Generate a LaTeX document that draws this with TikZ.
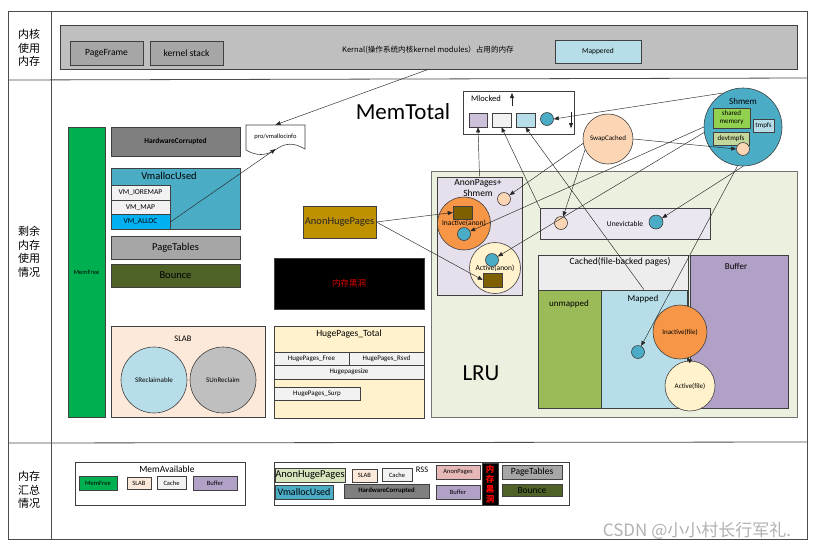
\documentclass[tikz,border=0pt]{standalone}
\usepackage{fontspec}
\setmainfont{Carlito}
\newfontfamily\cjk{Noto Sans CJK SC}
\usetikzlibrary{arrows.meta}
\definecolor{cGrayL}{HTML}{BFBFBF}
\definecolor{cGrayM}{HTML}{A6A6A6}
\definecolor{cGrayD}{HTML}{7F7F7F}
\definecolor{cBlueL}{HTML}{B7DEE8}
\definecolor{cTeal}{HTML}{4BACC6}
\definecolor{cCyan}{HTML}{00B0F0}
\definecolor{cGreen}{HTML}{00B050}
\definecolor{cOlive}{HTML}{4F6228}
\definecolor{cPeachL}{HTML}{FDE9D9}
\definecolor{cPeach}{HTML}{FCD5B5}
\definecolor{cOrange}{HTML}{F79646}
\definecolor{cCream}{HTML}{FFF2CC}
\definecolor{cLav}{HTML}{E5E0EC}
\definecolor{cPurple}{HTML}{B2A1C7}
\definecolor{cPurpleL}{HTML}{CCC0DA}
\definecolor{cLime}{HTML}{9BBB59}
\definecolor{cGreenBg}{HTML}{EBF1DE}
\definecolor{cGreenM}{HTML}{D7E4BD}
\definecolor{cDevt}{HTML}{C3D69B}
\definecolor{cBrown}{HTML}{7F6000}
\definecolor{cGold}{HTML}{BF9000}
\definecolor{cShared}{HTML}{92D050}
\definecolor{cPink}{HTML}{E6B9B8}
\definecolor{cCached}{HTML}{EDEDED}
\definecolor{cWhiteG}{HTML}{F2F2F2}
\definecolor{cUnev}{HTML}{EAE7F0}
\definecolor{cRed}{HTML}{E00000}
\newcommand\fsz[2]{\fontsize{#1}{#2}\selectfont}
\tikzset{
  frame/.style={draw=black!70, line width=0.8pt},
  bx/.style={draw=black!75, line width=0.6pt, inner sep=0pt, font=\fsz{8}{9.5}},
  cir/.style={circle, draw=black!75, line width=0.6pt, inner sep=0pt},
  txt/.style={inner sep=0pt, font=\fsz{8}{9.5}},
  arr/.style={-{Triangle[length=5pt,width=4pt]}, line width=0.45pt, draw=black!85},
  lab/.style={inner sep=0pt, align=center, font=\cjk\fsz{11}{13.5}},
}
\begin{document}
\begin{tikzpicture}[x=1pt,y=-1pt]
\useasboundingbox (0,0) rectangle (815,550);
\fill[white] (0,0) rectangle (815,550);
% frame
\draw[frame] (8,11) rectangle (807,539);
\draw[frame] (51,11) -- (51,539);
\draw[frame] (8,80) -- (807,78);
\draw[frame] (8,443) -- (807,442);
\node[lab] (lab1) at (29,48) {内核\\使用\\内存};
\node[lab] (lab2) at (29,252) {剩余\\内存\\使用\\情况};
\node[lab] (lab3) at (29,490) {内存\\汇总\\情况};
% top band
\node[bx, fill=cGrayL, minimum width=737pt, minimum height=44pt] (kern) at (428.5,47) {};
\node[bx, fill=cGrayM, minimum width=73pt, minimum height=24pt, font=\fsz{9.5}{11}] (pf) at (106.5,53) {PageFrame};
\node[bx, fill=cGrayM, minimum width=73pt, minimum height=24pt, font=\fsz{9.5}{11}] (ks) at (186.5,53) {kernel stack};
\node[txt, font=\cjk\fsz{7.6}{9}] (kernT) at (428,50) {Kernal(操作系统内核kernel modules）占用的内存};
\node[bx, fill=cBlueL, minimum width=86pt, minimum height=23pt, font=\fsz{7.5}{9}] (mapp) at (598,51.5) {Mappered};
% left column of middle band
\node[bx, fill=cGreen, minimum width=37pt, minimum height=290pt, font=\fsz{6.5}{8}] (memfree) at (86.5,272) {MemFree};
\node[bx, fill=cGrayD, minimum width=129pt, minimum height=29pt, font=\bfseries\fsz{7.5}{9}] (hwc) at (175.5,141.5) {HardwareCorrupted};
\node[bx, fill=cTeal, minimum width=129pt, minimum height=61pt] (vmu) at (175.5,198.5) {};
\node[txt, font=\fsz{10.5}{12}] (vmuT) at (169,176) {VmallocUsed};
\node[bx, fill=cWhiteG, minimum width=59pt, minimum height=15pt, font=\fsz{7.5}{9}] (vmio) at (140.5,192.5) {VM\_IOREMAP};
\node[bx, fill=cWhiteG, minimum width=59pt, minimum height=15pt, font=\fsz{7.5}{9}] (vmmap) at (140.5,207.5) {VM\_MAP};
\node[bx, fill=cCyan, minimum width=59pt, minimum height=15pt, font=\fsz{7.5}{9}] (vmalloc) at (140.5,222) {VM\_ALLOC};
\node[bx, fill=cGrayM, minimum width=129pt, minimum height=23pt, font=\fsz{10.5}{12}] (pt) at (175.5,247.5) {PageTables};
\node[bx, fill=cOlive, minimum width=129pt, minimum height=23pt, font=\fsz{10.5}{12}] (bounce) at (175.5,275.5) {Bounce};
\node[bx, fill=cPeachL, minimum width=154pt, minimum height=91pt] (slab) at (188,371.5) {};
\node[txt, font=\fsz{8.5}{10}] (slabT) at (183,339) {SLAB};
\node[cir, fill=cBlueL, minimum size=66pt, font=\fsz{7}{8}] (srec) at (154,380) {SReclaimable};
\node[cir, fill=cGrayL, minimum size=66pt, font=\fsz{7}{8}] (sunr) at (223,380) {SUnReclaim};
% pro/vmallocinfo
\node[txt, minimum width=59pt, minimum height=24pt, font=\fsz{6.5}{8}] (vinfo) at (275.5,137) {pro/vmallocinfo};
\draw[draw=black!75, line width=0.6pt] (246,125) -- (305,125) -- (305,149) .. controls (293,142) and (285,143) .. (275,150) .. controls (266,156) and (256,156) .. (246,150) -- cycle;
\node[txt, font=\fsz{23}{26}] (memtotal) at (403,112) {MemTotal};
% middle column
\node[bx, fill=cGold, minimum width=73pt, minimum height=32pt, font=\fsz{10.5}{12}, text=black!85] (ahp) at (339.5,222) {AnonHugePages};
\node[bx, fill=black, minimum width=150pt, minimum height=51pt, font=\cjk\fsz{8.5}{10}, text=cRed] (hole) at (349,283.5) {内存黑洞};
\node[bx, fill=cCream, minimum width=150pt, minimum height=92pt] (hpt) at (349,372) {};
\node[txt, font=\fsz{9.5}{11}] (hptT) at (349,334) {HugePages\_Total};
\node[bx, fill=cWhiteG, minimum width=75pt, minimum height=13pt, font=\fsz{7}{8}] (hpfree) at (311.5,358.5) {HugePages\_Free};
\node[bx, fill=cWhiteG, minimum width=75pt, minimum height=13pt, font=\fsz{7}{8}] (hprsvd) at (386.5,358.5) {HugePages\_Rsvd};
\node[bx, fill=cWhiteG, minimum width=150pt, minimum height=14pt, font=\fsz{7}{8}] (hpsize) at (349,372) {Hugepagesize};
\node[bx, fill=cWhiteG, minimum width=86pt, minimum height=13pt, font=\fsz{7}{8}] (hpsurp) at (317,393.5) {HugePages\_Surp};
% Mlocked
\node[bx, fill=white, minimum width=111pt, minimum height=43pt] (mlock) at (518.5,112.5) {};
\node[txt, font=\fsz{8.5}{10}] (mlockT) at (486,99) {Mlocked};
\node[bx, fill=cPurpleL, minimum width=18pt, minimum height=14pt] (sq1) at (478,120) {};
\node[bx, fill=cWhiteG, minimum width=19pt, minimum height=14pt] (sq2) at (501.5,120) {};
\node[bx, fill=cBlueL, minimum width=19pt, minimum height=14pt] (sq3) at (525.5,120) {};
\node[cir, fill=cTeal, minimum size=13pt] (mc) at (547,119) {};
\coordinate (upA) at (512,106);
\coordinate (upB) at (512,93);
\coordinate (dnA) at (571,112);
\coordinate (dnB) at (571,128);
\draw[arr] (upA) -- (upB);
\draw[arr] (dnA) -- (dnB);
% SwapCached and Shmem
\node[cir, fill=cPeach, minimum size=50pt, font=\fsz{7}{8}] (swap) at (608,139) {SwapCached};
\node[cir, fill=cTeal, minimum size=78pt] (shm) at (743,127) {};
\node[txt, font=\fsz{9}{10}] (shmT) at (743,101) {Shmem};
\node[bx, fill=cShared, minimum width=37pt, minimum height=20pt, align=center, font=\fsz{7}{8}] (shared) at (731.5,118) {shared\\memory};
\node[bx, fill=cBlueL, minimum width=21pt, minimum height=13pt, font=\fsz{7}{8}] (tmpfs) at (763.5,125.5) {tmpfs};
\node[bx, fill=cDevt, minimum width=36pt, minimum height=13pt, font=\fsz{7}{8}] (devt) at (731,139) {devtmpfs};
\node[cir, fill=cPeach, minimum size=13pt] (sc2) at (743,149) {};
% LRU
\node[bx, draw=black!55, fill=cGreenBg, minimum width=366pt, minimum height=246pt] (lru) at (614,294) {};
\node[txt, font=\fsz{23}{26}] (lruT) at (481,373) {LRU};
\node[bx, fill=cLav, minimum width=85pt, minimum height=118pt] (ap) at (479.5,236) {};
\node[txt, align=center, font=\fsz{9.5}{11.5}] (apT) at (478,188) {AnonPages+\\Shmem};
\node[cir, fill=cPeach, minimum size=13pt] (pc1) at (504,199) {};
\node[cir, fill=cOrange, minimum size=53pt, font=\fsz{7.5}{9}] (ia) at (464,223.5) {Inactive(anon)};
\node[bx, fill=cBrown, minimum width=19pt, minimum height=13pt] (iar) at (462.5,212.5) {};
\node[cir, fill=cTeal, minimum size=13pt] (iab) at (464,234) {};
\node[cir, fill=cCream, minimum size=51pt, font=\fsz{7.5}{9}] (aa) at (495,268) {Active(anon)};
\node[cir, fill=cTeal, minimum size=13pt] (aab) at (492,260) {};
\node[bx, fill=cBrown, minimum width=19pt, minimum height=14pt] (aar) at (492.5,280) {};
\node[bx, fill=cUnev, minimum width=170pt, minimum height=31pt, font=\fsz{7.5}{9}] (unev) at (625,223.5) {Unevictable};
\node[cir, fill=cPeach, minimum size=13pt] (pc2) at (561,223) {};
\node[cir, fill=cTeal, minimum size=14pt] (ub) at (656,222) {};
\node[bx, fill=cCached, minimum width=150pt, minimum height=153pt] (cached) at (613,331.5) {};
\node[txt, font=\fsz{9.5}{11}] (cachedT) at (620,262) {Cached(file-backed pages)};
\node[bx, fill=cLime, minimum width=63pt, minimum height=118pt] (unm) at (569.5,349) {};
\node[txt, font=\fsz{9}{10}] (unmT) at (569,304) {unmapped};
\node[bx, fill=cBlueL, minimum width=86pt, minimum height=118pt] (mapd) at (644,349) {};
\node[txt, font=\fsz{9}{10}] (mapdT) at (643,299) {Mapped};
\node[cir, fill=cTeal, minimum size=13pt] (mb) at (638,352) {};
\node[bx, fill=cPurple, minimum width=98pt, minimum height=153pt] (buf) at (739,331.5) {};
\node[txt, font=\fsz{9}{10}] (bufT) at (736,266) {Buffer};
\node[cir, fill=cOrange, minimum size=54pt, font=\fsz{7}{8}] (ifile) at (680,332) {Inactive(file)};
\node[cir, fill=cCream, minimum size=50pt, font=\fsz{7}{8}] (afile) at (690,386) {Active(file)};
% connectors
\draw[arr] (kern.south) -- (vinfo.north);
\draw[arr] (vmalloc.east) -- (vinfo.south);
\draw[arr] (ap.north) -- (sq1.south);
\draw[arr] (unev.north west) -- (sq2.south);
\draw[arr] (mapd.north) -- (sq3.south);
\draw[arr] (shm.120) -- (mc.east);
\draw[arr] (swap.east) -- (sc2.west);
\draw[arr] (swap.190) -- (pc1);
\draw[arr] (swap.205) -- (pc2);
\draw[arr] (shm.west) -- (iab);
\draw[arr] (shm.188) -- (aab);
\draw[arr] (shm.south) -- (ub);
\draw[arr] (shm.262) -- (mb);
\draw[arr] (ahp.east) -- (iar.west);
\draw[arr] (ahp.east) -- (aar.west);
\draw[arr] (afile.north) -- (ifile.-75);
% bottom band
\node[bx, fill=white, minimum width=170pt, minimum height=43pt] (ma) at (160,483.5) {};
\node[txt, font=\fsz{9.5}{11}] (maT) at (167,469.5) {MemAvailable};
\node[bx, fill=cGreen, minimum width=38pt, minimum height=14pt, font=\fsz{6.5}{8}] (maFree) at (98,483) {MemFree};
\node[bx, fill=cPeachL, minimum width=24pt, minimum height=12pt, font=\fsz{6.5}{8}] (maSlab) at (139,483) {SLAB};
\node[bx, fill=cWhiteG, minimum width=29pt, minimum height=13pt, font=\fsz{6.5}{8}] (maCache) at (171.5,483) {Cache};
\node[bx, fill=cPurple, minimum width=44pt, minimum height=14pt, font=\fsz{6.5}{8}] (maBuf) at (215,483) {Buffer};
\node[bx, fill=white, minimum width=295pt, minimum height=43pt] (rss) at (421.5,483.5) {};
\node[bx, fill=cGreenM, minimum width=70pt, minimum height=14pt, font=\fsz{10.5}{12}] (rAhp) at (310,475.5) {AnonHugePages};
\node[bx, fill=cPeachL, minimum width=25pt, minimum height=13pt, font=\fsz{6.5}{8}] (rSlab) at (364.5,475.5) {SLAB};
\node[bx, fill=cWhiteG, minimum width=30pt, minimum height=13pt, font=\fsz{6.5}{8}] (rCache) at (397,475) {Cache};
\node[txt, font=\fsz{8.5}{10}] (rssT) at (422,470) {RSS};
\node[bx, fill=cPink, minimum width=44pt, minimum height=14pt, font=\fsz{6.5}{8}] (rAnon) at (458,472) {AnonPages};
\node[bx, fill=cTeal, minimum width=58pt, minimum height=14pt, font=\fsz{10}{12}] (rVmu) at (304,492) {VmallocUsed};
\node[bx, fill=cGrayD, minimum width=85pt, minimum height=14pt, font=\bfseries\fsz{6.8}{8}] (rHwc) at (386.5,491) {HardwareCorrupted};
\node[bx, fill=cPurple, minimum width=44pt, minimum height=14pt, font=\fsz{6.5}{8}] (rBuf) at (458,492) {Buffer};
\node[bx, fill=black, minimum width=16pt, minimum height=42pt, align=center, font=\cjk\bfseries\fsz{8.5}{10}, text=red] (rHole) at (490,484) {内\\存\\黑\\洞};
\node[bx, fill=cGrayM, minimum width=60pt, minimum height=14pt, font=\fsz{9.5}{11}] (rPt) at (532,472) {PageTables};
\node[bx, fill=cOlive, minimum width=60pt, minimum height=12pt, font=\fsz{9.5}{11}] (rBounce) at (532,490) {Bounce};
\node[txt, font=\cjk\fsz{17}{20}, text=black!30] (wm) at (697,531) {CSDN @小小村长行军礼.};
\end{tikzpicture}
\end{document}
